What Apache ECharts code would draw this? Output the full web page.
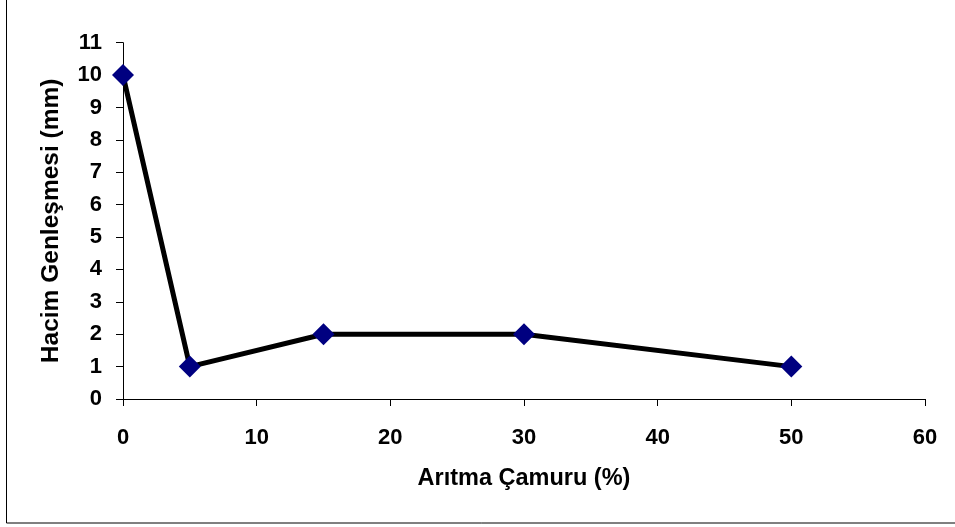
<!DOCTYPE html>
<html><head><meta charset="utf-8">
<script src="https://cdn.jsdelivr.net/npm/echarts@6/dist/echarts.min.js"></script>
<style>html,body{margin:0;padding:0;background:#fff}#c{width:955px;height:527px}</style>
</head><body><div id="c"></div>
<script>
const xValues = [0, 5, 15, 30, 50];
const yValues = [10, 1, 2, 2, 1];
const xTitle = 'Arıtma Çamuru (%)';
const yTitle = 'Hacim Genleşmesi (mm)';
const font = 'Liberation Sans, Arial, sans-serif';
const chart = echarts.init(document.getElementById('c'));
chart.setOption({
  animation: false,
  graphic: [{type:'rect', shape:{x:6.5,y:-10,width:1000,height:533}, style:{fill:'none',stroke:'#000',lineWidth:1}}],
  grid: {left:123, right:30, top:42.7, bottom:128},
  xAxis: {type:'value', min:0, max:60, interval:10,
    name: xTitle, nameLocation:'middle', nameGap:68,
    nameTextStyle:{fontFamily:font, fontWeight:'bold', fontSize:23.5, color:'#000'},
    axisLine:{lineStyle:{color:'#000',width:1}},
    axisTick:{length:7, lineStyle:{color:'#000'}},
    axisLabel:{fontFamily:font, fontWeight:'bold', fontSize:22, color:'#000', margin:28},
    splitLine:{show:false}},
  yAxis: {type:'value', min:0, max:11, interval:1,
    name: yTitle, nameLocation:'middle', nameGap:59,
    nameTextStyle:{fontFamily:font, fontWeight:'bold', fontSize:24.5, color:'#000'},
    axisLine:{show:true, lineStyle:{color:'#000',width:1}},
    axisTick:{show:true, length:7, lineStyle:{color:'#000'}},
    axisLabel:{fontFamily:font, fontWeight:'bold', fontSize:22, color:'#000', margin:21},
    splitLine:{show:false}},
  series: [{type:'line', data: xValues.map((x,i)=>[x,yValues[i]]),
    lineStyle:{color:'#000', width:5}, symbol:'diamond', symbolSize:[22,22],
    itemStyle:{color:'#000080'}, z:3}]
});
</script></body></html>
